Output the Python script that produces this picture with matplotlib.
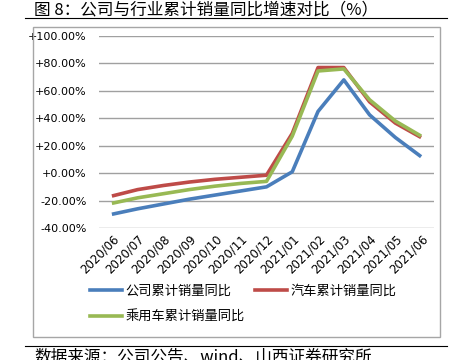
import matplotlib.pyplot as plt
from matplotlib.patches import Rectangle
from matplotlib.lines import Line2D

plt.rcParams['font.family'] = ['Noto Sans CJK SC', 'DejaVu Sans']

months = ['2020/06', '2020/07', '2020/08', '2020/09', '2020/10', '2020/11', '2020/12',
          '2021/01', '2021/02', '2021/03', '2021/04', '2021/05', '2021/06']
company = [-30, -26, -22.5, -19, -16, -13, -10, 1, 45, 68, 42.5, 26, 12]
auto = [-16.7, -12, -9, -6.5, -4.5, -3, -1.5, 29, 77, 77, 52, 36.5, 26]
passenger = [-22, -18, -15, -12, -9.5, -7.5, -6, 27, 74.5, 76, 53.5, 38, 27]
yticks = [-40, -20, 0, 20, 40, 60, 80, 100]

names = ['公司累计销量同比', '汽车累计销量同比', '乘用车累计销量同比']
colors = ['#4a7ebb', '#be4b48', '#98b954']

fig = plt.figure(figsize=(4.54, 3.6), dpi=100)

# title and rules
fig.text(0.075, 0.972, '图 8：公司与行业累计销量同比增速对比（%）', fontsize=12,
         ha='left', va='center', color='black')
fig.add_artist(Line2D([25/454, 447/454], [1-18/360, 1-18/360], color='black', lw=0.8))
fig.add_artist(Line2D([25/454, 447/454], [1-346/360, 1-346/360], color='black', lw=0.8))
fig.text(0.075, 1-357/360, '数据来源：公司公告、wind、山西证券研究所', fontsize=12,
         ha='left', va='center', color='black')

# chart frame
fig.add_artist(Rectangle((33/454, 1-337/360), (440-33)/454, (337-27)/360,
                         fill=False, edgecolor='#a6a6a6', lw=1.0))

ax = fig.add_axes([99/454, 1-228/360, (434-99)/454, (228-36)/360])
x = range(len(months))
for vals, c in zip([company, auto, passenger], colors):
    ax.plot(x, vals, color=c, lw=2.6, solid_capstyle='butt')

ax.set_xlim(-0.5, len(months) - 0.5)
ax.set_ylim(-40, 100)
ax.set_yticks(yticks)
ax.set_yticklabels([f'{v:+.2f}%' for v in yticks], fontsize=8, family=['DejaVu Sans'])
ax.yaxis.grid(True, color='#a0a0a0', lw=1.0)
ax.set_axisbelow(True)
for s in ax.spines.values():
    s.set_visible(False)
ax.tick_params(axis='y', length=0, pad=9)
ax.tick_params(axis='x', length=0, pad=3)
ax.set_xticks(list(x))
ax.set_xticklabels(months, rotation=45, ha='right', rotation_mode='anchor', fontsize=8.5,
                   family=['DejaVu Sans'])

handles = [Line2D([], [], color=c, lw=2.6) for c in colors]
ax.legend(handles[:2], names[:2], loc='center left', bbox_to_anchor=(78/454, 1-291/360),
          bbox_transform=fig.transFigure, ncol=2, frameon=False, fontsize=9.5,
          handlelength=2.4, columnspacing=1.8, handletextpad=0.3)
fig.legend(handles[2:], names[2:], loc='center left', bbox_to_anchor=(78/454, 1-317/360),
           frameon=False, fontsize=9.5, handlelength=2.4, handletextpad=0.3)

fig.savefig('out.png', dpi=100)
